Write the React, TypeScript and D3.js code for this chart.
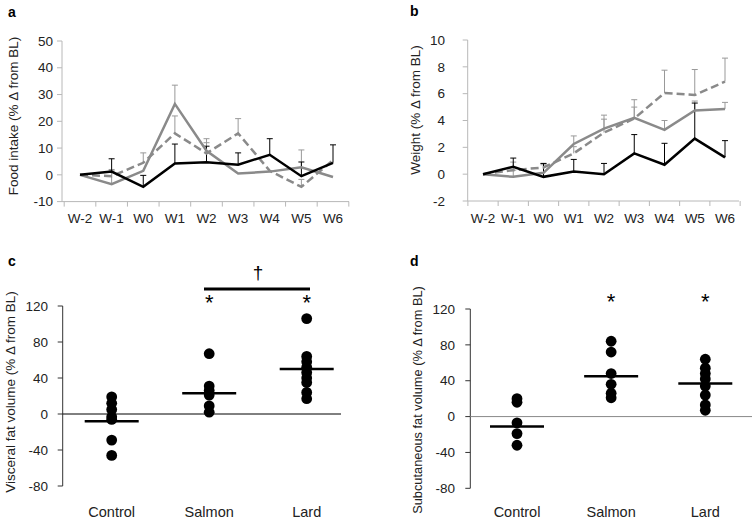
import React from "react";
import * as d3 from "d3";

const weeks = ["W-2", "W-1", "W0", "W1", "W2", "W3", "W4", "W5", "W6"];

// Panel a: food intake
const foodControl = [0, 1.2, -4.5, 4.2, 4.7, 3.8, 7.5, -0.5, 4.5];
const foodControlErr = [0, 4.8, 4.3, 7.3, 6.0, 4.4, 6.0, 5.3, 6.7];
const foodSalmon = [0, -3.5, 1.5, 26.5, 9.0, 0.5, 1.2, 2.8, -0.8];
const foodSalmonErr = [0, 5.5, 0, 7.0, 4.5, 0, 0, 6.5, 0];
const foodLard = [0, -0.5, 4.5, 15.5, 8.0, 15.5, 1.5, -4.5, 5.5];
const foodLardErr = [0, 2.0, 3.7, 6.5, 4.0, 5.5, 0, 2.8, 0];
const foodTicks = [-10, 0, 10, 20, 30, 40, 50];

// Panel b: weight
const wtControl = [0, 0.55, -0.2, 0.2, 0, 1.55, 0.7, 2.65, 1.25];
const wtControlErr = [0, 0.65, 1.0, 0.9, 0.8, 1.4, 1.6, 2.65, 1.25];
const wtSalmon = [0, -0.2, 0.1, 2.25, 3.4, 4.2, 3.3, 4.75, 4.85];
const wtSalmonErr = [0, 0.5, 0.6, 0.6, 1.0, 0.8, 0.7, 0.7, 0.5];
const wtLard = [0, 0.3, 0.5, 1.55, 3.1, 4.15, 6.05, 5.9, 6.9];
const wtLardErr = [0, 0.6, 0.3, 0.5, 1.0, 1.4, 1.7, 1.9, 1.75];
const wtTicks = [-2, 0, 2, 4, 6, 8, 10];

const groups = ["Control", "Salmon", "Lard"];
const fatTicks = [-80, -40, 0, 40, 80, 120];

// Panel c: visceral fat
const viscControl = [19, 12, 5, -3, -6, -29, -46];
const viscSalmon = [67, 31, 26, 21, 9, 2];
const viscLard = [106, 64, 58, 52, 46, 40, 35, 24, 17];
const viscMeans = [-8, 23, 50];

// Panel d: subcutaneous fat
const subControl = [20, 16, -7, -19, -32];
const subSalmon = [84, 72, 48, 36, 26, 21];
const subLard = [64, 54, 48, 42, 34, 24, 13, 7];
const subMeans = [-11, 45, 37];

const FONT = "'Liberation Sans', Arial, sans-serif";
const GRAY = "#8a8a8a";
const AXIS_GRAY = "#b8b8b8";

type LineSeries = { v: number[]; e: number[]; color: string; dash?: string; errColor: string };

function LinePanel(props: {
  x0: number; x1: number; first: number; last: number;
  yTop: number; yBot: number; yDomain: [number, number]; ticks: number[];
  labelRight: number; series: LineSeries[]; title: string; titleX: number; titleY: number;
}) {
  const { x0, x1, first, last, yTop, yBot, yDomain, ticks, labelRight, series, title, titleX, titleY } = props;
  const x = d3.scalePoint<string>().domain(weeks).range([first, last]);
  const y = d3.scaleLinear().domain(yDomain).range([yBot, yTop]);
  const step = x.step();
  const line = d3.line<number>().x((_, i) => x(weeks[i]) as number).y((d) => y(d));
  const bounds = weeks.map((w) => (x(w) as number) - step / 2).concat([(x(weeks[weeks.length - 1]) as number) + step / 2]);
  return (
    <g>
      <line x1={x0} x2={x0} y1={yTop} y2={yBot} stroke={AXIS_GRAY} strokeWidth={1} />
      <line x1={x0} x2={x1} y1={yBot} y2={yBot} stroke={AXIS_GRAY} strokeWidth={1} />
      {ticks.map((t) => (
        <g key={t}>
          <line x1={x0 - 5} x2={x0} y1={y(t)} y2={y(t)} stroke={AXIS_GRAY} />
          <text x={labelRight} y={y(t)} dy="0.35em" textAnchor="end" fontSize={13.5} fontFamily={FONT} fill="#222">{t}</text>
        </g>
      ))}
      {bounds.map((b, i) => (
        <line key={i} x1={b} x2={b} y1={yBot} y2={yBot + 5} stroke={AXIS_GRAY} />
      ))}
      {weeks.map((w) => (
        <text key={w} x={x(w) as number} y={yBot + 17} dy="0.35em" textAnchor="middle" fontSize={13.5} fontFamily={FONT} fill="#222">{w}</text>
      ))}
      {series.map((s, si) => (
        <g key={si}>
          {s.e.map((e, i) =>
            e > 0 ? (
              <g key={i}>
                <line x1={x(weeks[i]) as number} x2={x(weeks[i]) as number} y1={y(s.v[i])} y2={y(s.v[i] + e)} stroke={s.errColor} strokeWidth={1} />
                <line x1={(x(weeks[i]) as number) - 3} x2={(x(weeks[i]) as number) + 3} y1={y(s.v[i] + e)} y2={y(s.v[i] + e)} stroke={s.errColor} strokeWidth={1} />
              </g>
            ) : null
          )}
        </g>
      ))}
      {series.map((s, si) => (
        <path key={si} d={line(s.v) as string} fill="none" stroke={s.color} strokeWidth={2.5} strokeDasharray={s.dash} strokeLinejoin="miter" />
      ))}
      <text transform={`translate(${titleX},${titleY}) rotate(-90)`} textAnchor="middle" dy="0.35em" fontSize={13.5} fontFamily={FONT} fill="#222">{title}</text>
    </g>
  );
}

function DotPanel(props: {
  axisX: number; lineEnd: number; first: number; last: number; yTop: number; yBot: number;
  labelRight: number; data: number[][]; means: number[]; zeroColor: string;
  title: string; titleX: number; titleY: number; titleSize: number; starY: number; labelY: number;
}) {
  const { axisX, lineEnd, first, last, yTop, yBot, labelRight, data, means, zeroColor, title, titleX, titleY, titleSize, starY, labelY } = props;
  const x = d3.scalePoint<string>().domain(groups).range([first, last]);
  const y = d3.scaleLinear().domain([-80, 120]).range([yBot, yTop]);
  return (
    <g>
      <line x1={axisX} x2={axisX} y1={yTop} y2={yBot} stroke="#333" strokeWidth={1} />
      {fatTicks.map((t) => (
        <g key={t}>
          <line x1={axisX - 5} x2={axisX} y1={y(t)} y2={y(t)} stroke="#333" />
          <text x={labelRight} y={y(t)} dy="0.35em" textAnchor="end" fontSize={13.5} fontFamily={FONT} fill="#222">{t}</text>
        </g>
      ))}
      <line x1={axisX} x2={lineEnd} y1={y(0)} y2={y(0)} stroke={zeroColor} strokeWidth={1} />
      {data.map((arr, gi) =>
        arr.map((v, i) => <circle key={gi + "-" + i} cx={x(groups[gi]) as number} cy={y(v)} r={5.4} fill="#000" />)
      )}
      {means.map((m, gi) => (
        <line key={gi} x1={(x(groups[gi]) as number) - 27} x2={(x(groups[gi]) as number) + 27} y1={y(m)} y2={y(m)} stroke="#000" strokeWidth={2.5} />
      ))}
      {[1, 2].map((gi) => (
        <text key={gi} x={x(groups[gi]) as number} y={starY} dy="0.75em" textAnchor="middle" fontSize={22} fontFamily={FONT} fill="#000">*</text>
      ))}
      {groups.map((g) => (
        <text key={g} x={x(g) as number} y={labelY} dy="0.35em" textAnchor="middle" fontSize={14.5} fontFamily={FONT} fill="#222">{g}</text>
      ))}
      <text transform={`translate(${titleX},${titleY}) rotate(-90)`} textAnchor="middle" dy="0.35em" fontSize={titleSize} fontFamily={FONT} fill="#222">{title}</text>
    </g>
  );
}

export default function App() {
  return (
    <svg width={754} height={521} style={{ position: "absolute", left: 0, top: 0, background: "#fff" }}>
      <rect width={754} height={521} fill="#fff" />
      <text x={8} y={12} dy="0.35em" fontSize={14} fontWeight="bold" fontFamily={FONT} fill="#000">a</text>
      <text x={410} y={11} dy="0.35em" fontSize={14} fontWeight="bold" fontFamily={FONT} fill="#000">b</text>
      <text x={8} y={261} dy="0.35em" fontSize={14} fontWeight="bold" fontFamily={FONT} fill="#000">c</text>
      <text x={410} y={261} dy="0.35em" fontSize={14} fontWeight="bold" fontFamily={FONT} fill="#000">d</text>
      <LinePanel
        x0={62} x1={349} first={80} last={333} yTop={41} yBot={201.6} yDomain={[-10, 50]}
        ticks={foodTicks} labelRight={53}
        series={[
          { v: foodSalmon, e: foodSalmonErr, color: GRAY, errColor: "#999" },
          { v: foodLard, e: foodLardErr, color: GRAY, dash: "8,4", errColor: "#999" },
          { v: foodControl, e: foodControlErr, color: "#000", errColor: "#000" },
        ]}
        title="Food intake (% Δ from BL)" titleX={13} titleY={116}
      />
      <LinePanel
        x0={467.7} x1={739} first={483} last={725} yTop={40} yBot={201} yDomain={[-2, 10]}
        ticks={wtTicks} labelRight={445}
        series={[
          { v: wtSalmon, e: wtSalmonErr, color: GRAY, errColor: "#999" },
          { v: wtLard, e: wtLardErr, color: GRAY, dash: "8,4", errColor: "#999" },
          { v: wtControl, e: wtControlErr, color: "#000", errColor: "#000" },
        ]}
        title="Weight (% Δ from BL)" titleX={415} titleY={110}
      />
      <DotPanel
        axisX={62.7} lineEnd={341} first={111.7} last={306.7} yTop={306} yBot={486} labelRight={48}
        data={[viscControl, viscSalmon, viscLard]} means={viscMeans} zeroColor="#000"
        title="Visceral fat volume (% Δ from BL)" titleX={10} titleY={392} titleSize={13.5} starY={293} labelY={511.5}
      />
      <line x1={204} x2={310} y1={289} y2={289} stroke="#000" strokeWidth={3} />
      <text x={258} y={272} dy="0.35em" textAnchor="middle" fontSize={19} fontFamily={FONT} fill="#000">†</text>
      <DotPanel
        axisX={470.3} lineEnd={752} first={517} last={705.3} yTop={309} yBot={488.3} labelRight={455}
        data={[subControl, subSalmon, subLard]} means={subMeans} zeroColor="#888"
        title="Subcutaneous fat volume (% Δ from BL)" titleX={418} titleY={400} titleSize={12.8} starY={292} labelY={511.5}
      />
    </svg>
  );
}
